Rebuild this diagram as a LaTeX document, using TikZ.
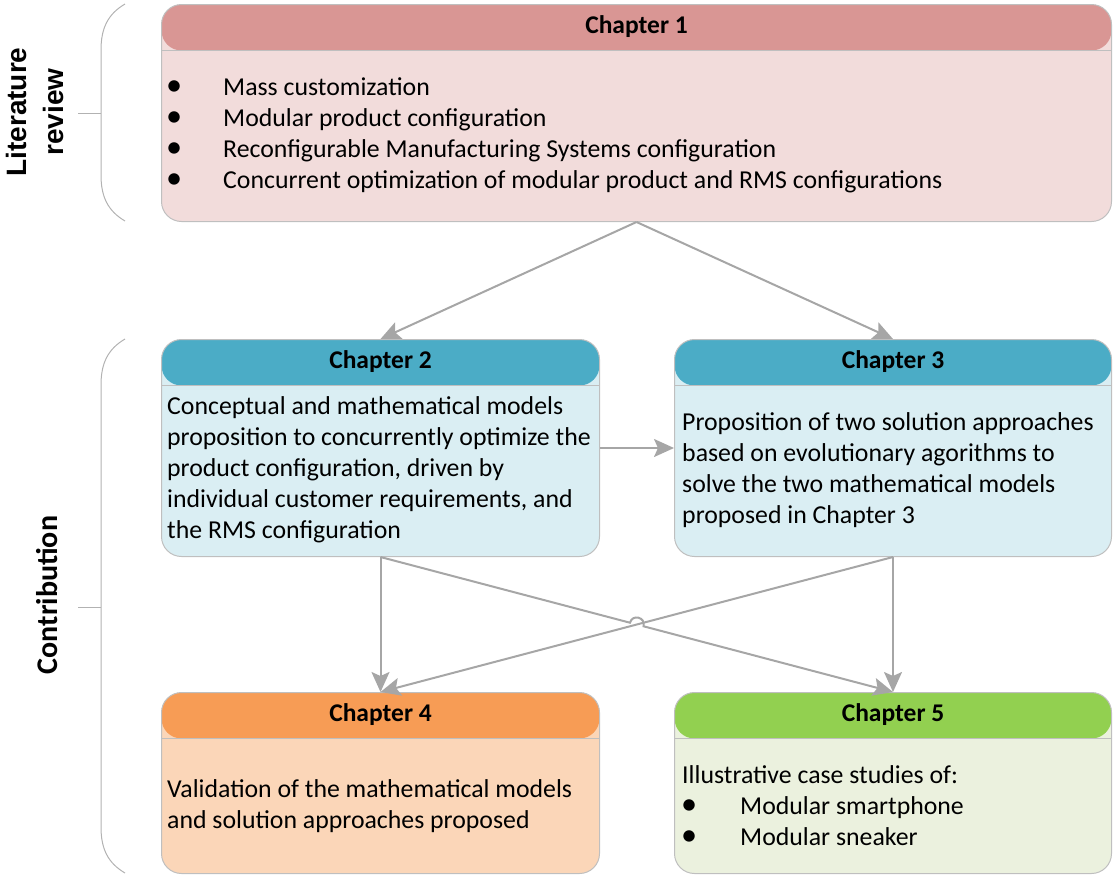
\documentclass[tikz,border=0pt]{standalone}
\usepackage{fontspec}
\setmainfont{Carlito}
\newfontfamily\arialfont{Liberation Sans}
\usetikzlibrary{arrows.meta,calc}
\definecolor{headA}{HTML}{D99694}
\definecolor{bodyA}{HTML}{F2DCDB}
\definecolor{headB}{HTML}{4BACC6}
\definecolor{bodyB}{HTML}{DAEEF3}
\definecolor{headD}{HTML}{F79C55}
\definecolor{bodyD}{HTML}{FBD6B8}
\definecolor{headE}{HTML}{92D050}
\definecolor{bodyE}{HTML}{EBF1DE}
\definecolor{boxline}{HTML}{BFBFBF}
\definecolor{connline}{HTML}{A6A6A6}
\newcommand\bulA{\makebox[57pt][l]{\scalebox{1.25}{•}}}
\newcommand\bulB{\makebox[59pt][l]{\scalebox{1.25}{•}}}
\begin{document}
\begin{tikzpicture}[x=1pt,y=-1pt,
  chapbox/.style 2 args={draw=boxline, line width=1pt, rounded corners=20pt, fill=#1, anchor=north west, inner sep=0pt,
    path picture={\fill[#2] (path picture bounding box.north west) rectangle ([yshift=-46pt]path picture bounding box.north east);
      \draw[boxline, line width=0.6pt] ([yshift=-46pt]path picture bounding box.north west) -- ([yshift=-46pt]path picture bounding box.north east);}},
  headtxt/.style={font=\bfseries\fontsize{25.5}{30}\selectfont, inner sep=0pt},
  bodytxt/.style={font=\fontsize{25.8}{31}\selectfont, align=left, anchor=west, inner sep=0pt},
  conn/.style={draw=connline, line width=2pt, -{Stealth[length=20pt,width=18pt,inset=4pt]}},
  brace/.style={draw=boxline!80!gray, line width=1pt}]
\useasboundingbox (0,0) rectangle (1113,876);

% boxes
\node[chapbox={bodyA}{headA}, minimum width=950pt, minimum height=217pt] (c1) at (161,4) {};
\node[chapbox={bodyB}{headB}, minimum width=438pt, minimum height=217pt] (c2) at (161,339) {};
\node[chapbox={bodyB}{headB}, minimum width=437pt, minimum height=217pt] (c3) at (674,339) {};
\node[chapbox={bodyD}{headD}, minimum width=438pt, minimum height=181pt] (c4) at (161,692) {};
\node[chapbox={bodyE}{headE}, minimum width=437pt, minimum height=181pt] (c5) at (674,692) {};

% titles
\node[headtxt] (t1) at ($(c1.north)+(0,23)$) {Chapter 1};
\node[headtxt] (t2) at ($(c2.north)+(0,23)$) {Chapter 2};
\node[headtxt] (t3) at ($(c3.north)+(0,23)$) {Chapter 3};
\node[headtxt] (t4) at ($(c4.north)+(0,23)$) {Chapter 4};
\node[headtxt] (t5) at ($(c5.north)+(0,23)$) {Chapter 5};

% body texts
\node[bodytxt] (b1) at (166,135) {\bulA Mass customization\\
\bulA Modular product configuration\\
\bulA Reconfigurable Manufacturing Systems configuration\\
\bulA Concurrent optimization of modular product and RMS configurations};
\node[bodytxt] (b2) at (167,470) {Conceptual and mathematical models\\
proposition to concurrently optimize the\\
product configuration, driven by\\
individual customer requirements, and\\
the RMS configuration};
\node[bodytxt] (b3) at (682,470) {Proposition of two solution approaches\\
based on evolutionary agorithms to\\
solve the two mathematical models\\
proposed in Chapter 3};
\node[bodytxt] (b4) at (167,806) {Validation of the mathematical models\\
and solution approaches proposed};
\node[bodytxt] (b5) at (681,806) {\hspace*{1pt}Illustrative case studies of:\\
\bulB Modular smartphone\\
\bulB Modular sneaker};

% side labels
\node[font=\arialfont\bfseries\fontsize{28}{37}\selectfont, rotate=90, align=center, inner sep=0pt] (lit) at (35,112) {Literature\\review};
\node[font=\bfseries\fontsize{30}{36}\selectfont, rotate=90, inner sep=0pt] (con) at (47,595) {Contribution};

% braces
\draw[brace] (125,4) .. controls (108,14) and (101,28) .. (101,50) -- (101,175) .. controls (101,197) and (108,211) .. (125,221);
\draw[brace] (78,113) -- (101,113);
\draw[brace] (125,339) .. controls (108,349) and (101,363) .. (101,385) -- (101,827) .. controls (101,849) and (108,863) .. (125,873);
\draw[brace] (78,607) -- (101,607);

% connectors
\draw[conn] (c1.south) -- (c2.north);
\draw[conn] (c1.south) -- (c3.north);
\draw[conn] (c2.east) -- (c3.west);
\draw[conn] (c2.south) -- (c4.north);
\draw[conn] (c3.south) -- (c5.north);
\draw[conn] (c3.south) -- (c4.north);
\coordinate (X) at (intersection of c2.south--c5.north and c3.south--c4.north);
\coordinate (hA) at ($(X)!7pt!(c2.south)$);
\coordinate (hB) at ($(X)!7pt!(c5.north)$);
\draw[conn] (c2.south) -- (hA) .. controls ($(hA)!9.33pt!90:(X)$) and ($(hB)!9.33pt!-90:(X)$) .. (hB) -- (c5.north);
\end{tikzpicture}
\end{document}
